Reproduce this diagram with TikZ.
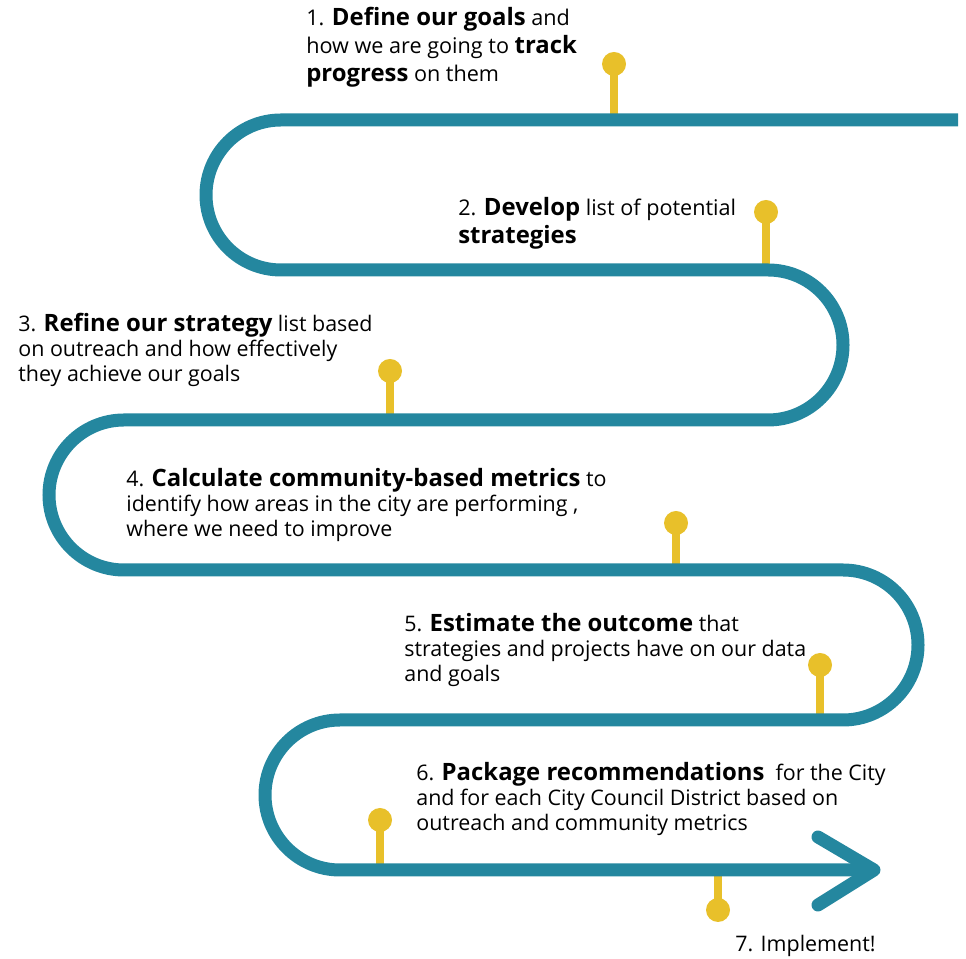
\documentclass[tikz,border=0pt]{standalone}
\usepackage{fontspec}
\setmainfont{Open Sans}
\definecolor{roadteal}{HTML}{24879F}
\definecolor{pinyellow}{HTML}{E8C02A}
\newcommand\keyterm[1]{{\fontsize{13.6}{14}\selectfont\bfseries #1}}
\begin{document}
\begin{tikzpicture}[
    x = 0.02cm, y = 0.02cm,
    road/.style = {
        draw = roadteal,
        line width = 7.4pt
    },
    pinstick/.style = {draw = pinyellow, line width = 4pt},
    pinhead/.style = {fill = pinyellow},
    bigstep/.style = {
        anchor = base west,
        inner sep = 0pt,
        align = left,
        font = \fontsize{12.3}{16.2}\selectfont
    },
    smallstep/.style = {
        bigstep,
        font = \fontsize{12.2}{14.4}\selectfont
    }
]
\useasboundingbox (0, 0) rectangle (966, 959);

% Pin sticks
\foreach \px/\pc/\pl in {614/895/839, 766/747/689, 390/588/539,
                         676/436/389, 820/294/239, 380/139/89, 718/49/89}
    \draw[pinstick] (\px, \pl) -- (\px, \pc);

% Winding road
\draw[road] (958, 839) -- (281, 839)
    arc[start angle = 90, end angle = 270, radius = 75] -- (768, 689)
    arc[start angle = 90, end angle = -90, radius = 75] -- (124, 539)
    arc[start angle = 90, end angle = 270, radius = 75] -- (843, 389)
    arc[start angle = 90, end angle = -90, radius = 75] -- (340, 239)
    arc[start angle = 90, end angle = 270, radius = 75] -- (874, 89);

% Arrow head
\draw[road, line cap = round, line join = round]
    (818, 122) -- (874, 89) -- (818, 54);

% Pin heads
\foreach \px/\pc in {614/895, 766/747, 390/588, 676/436, 820/294, 380/139, 718/49}
    \fill[pinhead] (\px, \pc) circle (12);

% Steps (anchored at the baseline of the last line)
\node[bigstep] (goals) at (306, 877) {
    1. \keyterm{Define our goals} and \\
    how we are going to \keyterm{track} \\
    \keyterm{progress} on them
};

\node[bigstep] (develop) at (458, 715) {
    2. \keyterm{Develop} list of potential \\
    \keyterm{strategies}
};

\node[smallstep] (refine) at (18, 577) {
    3. \keyterm{Refine our strategy} list based \\
    on outreach and how effectively \\
    they achieve our goals
};

\node[smallstep] (calculate) at (126, 422) {
    4. \keyterm{Calculate community-based metrics} to \\
    identify how areas in the city are performing , \\
    where we need to improve
};

\node[smallstep] (estimate) at (404, 277) {
    5. \keyterm{Estimate the outcome} that \\
    strategies and projects have on our data \\
    and goals
};

\node[smallstep] (package) at (416, 128) {
    6. \keyterm{Package recommendations} \ for the City \\
    and for each City Council District based on \\
    outreach and community metrics
};

\node[smallstep] (implement) at (735, 7) {7. Implement!};

\end{tikzpicture}
\end{document}
